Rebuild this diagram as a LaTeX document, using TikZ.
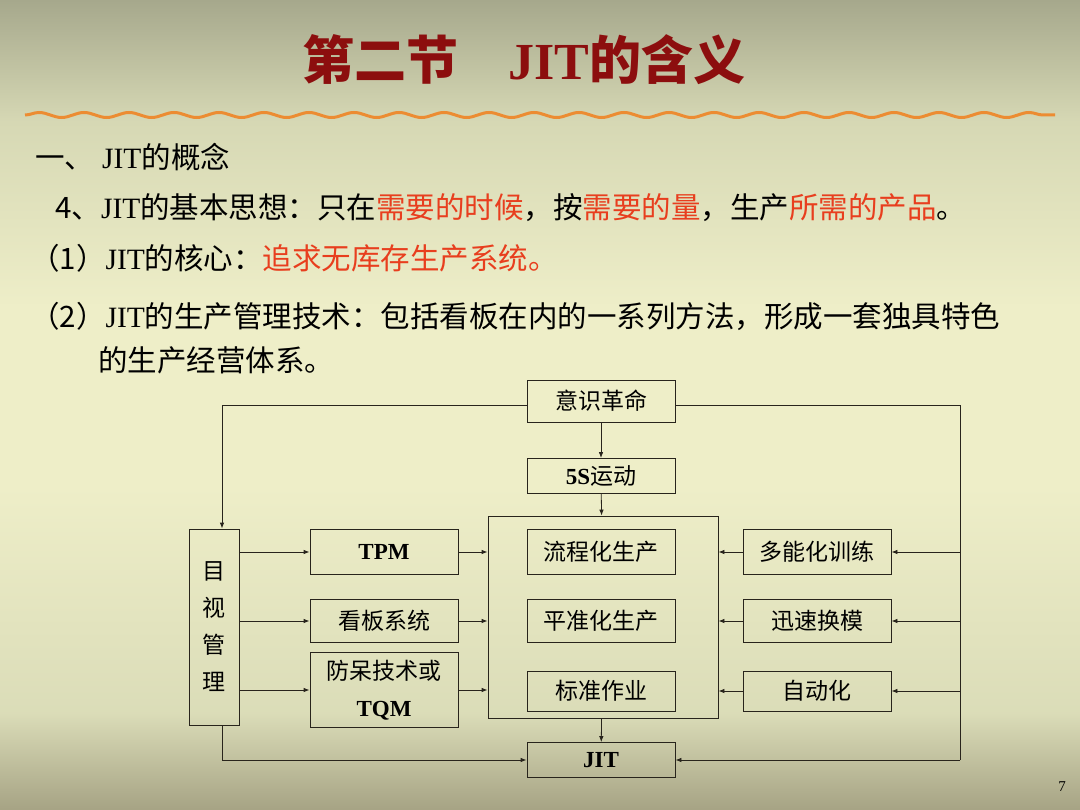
\documentclass[tikz,border=0pt]{standalone}
\usepackage{fontspec}
\setmainfont{Noto Sans CJK SC}
\newfontfamily\tms{Liberation Serif}
\usetikzlibrary{arrows.meta,decorations.pathmorphing}
\definecolor{bgtop}{RGB}{166,168,140}
\definecolor{bghi}{RGB}{214,216,180}
\definecolor{bgmid}{RGB}{238,238,200}
\definecolor{bgbot}{RGB}{166,163,132}
\definecolor{titlered}{RGB}{140,14,14}
\definecolor{hired}{RGB}{232,62,30}
\definecolor{wave}{RGB}{236,140,50}
\definecolor{ink}{RGB}{40,36,28}
% stops sit between 25bp and 75bp, the part that TikZ fits to the path
\pgfdeclareverticalshading{slide}{100bp}{color(0bp)=(bgbot); color(25bp)=(bgbot);
  color(31bp)=(bghi!80!bgmid); color(45bp)=(bgmid); color(56bp)=(bgmid);
  color(67.5bp)=(bghi); color(75bp)=(bgtop); color(100bp)=(bgtop)}
\tikzset{
  box/.style={draw=ink, line width=0.8pt, minimum width=148pt, minimum height=42pt,
    inner sep=0pt, font=\fontsize{23}{26}\selectfont},
  arr/.style={draw=ink, line width=0.8pt, -{Latex[length=6pt,width=4.5pt]}},
  plain/.style={draw=ink, line width=0.8pt},
  txt/.style={anchor=west, inner sep=0pt, font=\fontsize{29.5}{34}\selectfont}
}
\newcommand{\hl}[1]{\textcolor{hired}{#1}}
\begin{document}
\begin{tikzpicture}[x=1pt,y=-1pt]
\begin{scope}[y=1pt]
\shade[shading=slide] (0,-810) rectangle (1080,0);
\end{scope}
\useasboundingbox (0,0) rectangle (1080,810);
% title and wave
\node[text=titlered, font=\bfseries\fontsize{52}{56}\selectfont] (title) at (524,60)
  {第二节\hspace{50pt}{\tms JIT}的含义};
\coordinate (wl) at (25,115);
\coordinate (wr) at (1055,115);
\draw[wave, line width=3pt, decorate, decoration={snake, segment length=45pt, amplitude=2.5pt}] (wl) -- (wr);
% text lines
\node[txt] (h1) at (35,157) {一、\hspace{8pt}{\tms JIT}的概念};
\node[txt] (l4) at (55,208) {4、{\tms JIT}的基本思想：只在\hl{需要的时候}，按\hl{需要的量}，生产\hl{所需的产品}。};
\node[txt] (l1) at (30,258) {（1）{\tms JIT}的核心：\hl{追求无库存生产系统。}};
\node[txt] (l2) at (30,316) {（2）{\tms JIT}的生产管理技术：包括看板在内的一系列方法，形成一套独具特色};
\node[txt] (l2b) at (98,360) {的生产经营体系。};
% diagram
\node[box] (yishi) at (601,401) {意识革命};
\node[box, minimum height=35pt] (wus) at (601,476) {{\tms\bfseries 5S}运动};
\node[box, minimum width=230pt, minimum height=202pt] (core) at (603,617) {};
\node[box, minimum height=45pt] (liucheng) at (601,552) {流程化生产};
\node[box, minimum height=43pt] (pingzhun) at (601,621) {平准化生产};
\node[box, minimum height=40pt] (biaozhun) at (601,691) {标准作业};
\node[box, minimum height=35pt] (jit) at (601,760) {{\tms\bfseries JIT}};
\node[box, minimum height=45pt] (duoneng) at (817,552) {多能化训练};
\node[box, minimum height=43pt] (xunsu) at (817,621) {迅速换模};
\node[box, minimum height=40pt] (zidong) at (817,691) {自动化};
\node[box, minimum height=45pt] (tpm) at (384,552) {{\tms\bfseries TPM}};
\node[box, minimum height=43pt] (kanban) at (384,621) {看板系统};
\node[box, minimum height=75pt, align=center, font=\fontsize{23}{37}\selectfont] (fangdai) at (384,690)
  {防呆技术或\\{\tms\bfseries TQM}};
\node[box, minimum width=50pt, minimum height=196pt, align=center, font=\fontsize{23}{37}\selectfont] (mushi) at (214,627)
  {目\\视\\管\\理};
\coordinate (rtop) at (960,405);
\coordinate (rbot) at (960,760);
\draw[arr] (yishi) -- (wus);
\draw[arr] (wus) -- (core);
\draw[arr] (core) -- (jit);
\draw[arr] ([yshift=-4pt]yishi.west) -| ([xshift=8pt]mushi.north);
\draw[arr] ([xshift=8pt]mushi.south) |- (jit.west);
\draw[plain] ([yshift=-4pt]yishi.east) -- (rtop) -- (rbot);
\draw[arr] (rbot) -- (jit.east);
\foreach \n in {duoneng,xunsu,zidong} {
  \draw[arr] (rtop |- \n.east) -- (\n.east);
  \draw[arr] (\n.west) -- (\n.west -| core.east);
}
\foreach \n in {tpm,kanban,fangdai} {
  \draw[arr] (mushi.east |- \n.west) -- (\n.west);
  \draw[arr] (\n.east) -- (\n.east -| core.west);
}
\node[font=\tms\fontsize{15}{17}\selectfont] (pnum) at (1062,787) {7};
\end{tikzpicture}
\end{document}
